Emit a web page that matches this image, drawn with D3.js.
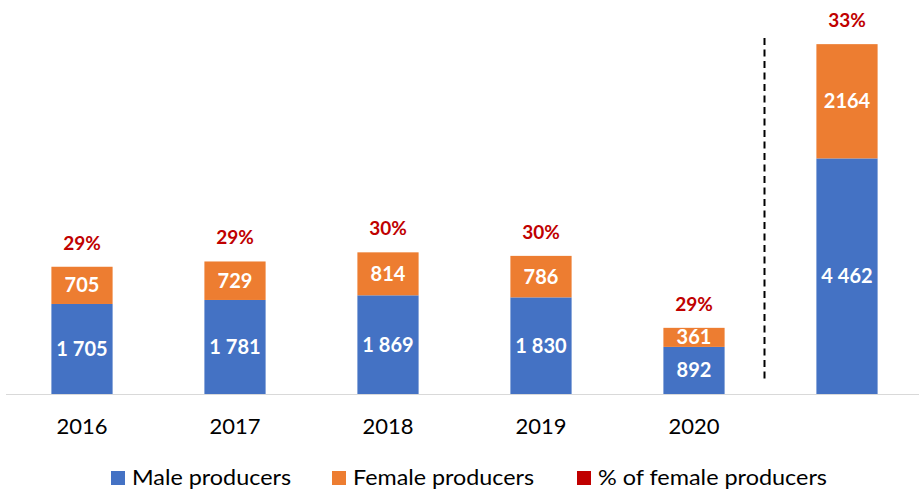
<!DOCTYPE html>
<html>
<head>
<meta charset="utf-8">
<script src="https://cdn.jsdelivr.net/npm/d3@7"></script>
<style>
  body { margin: 0; background: #fff; }
  svg { font-family: Lato, "Open Sans", sans-serif; }
</style>
</head>
<body>
<div id="chart"></div>
<script>
// Data
const categories = ["2016", "2017", "2018", "2019", "2020", "total"];
const tickLabels = ["2016", "2017", "2018", "2019", "2020", ""];
const male = [1705, 1781, 1869, 1830, 892, 4462];
const female = [705, 729, 814, 786, 361, 2164];
const femaleShare = [29, 29, 30, 30, 29, 33];
const maleLabels = ["1 705", "1 781", "1 869", "1 830", "892", "4 462"];
const femaleLabels = ["705", "729", "814", "786", "361", "2164"];

const width = 919;
const height = 490;
const baseY = 394;

const colors = { male: "#4472C4", female: "#ED7D31", share: "#C00000" };

const svg = d3.select("#chart")
  .append("svg")
  .attr("width", width)
  .attr("height", height);

const x = d3.scaleBand()
  .domain(categories)
  .range([5.5, 923.5])
  .paddingInner(0.6)
  .paddingOuter(0.3);

const y = d3.scaleLinear()
  .domain([0, 7000])
  .range([baseY, baseY - 7000 * 0.0528]);

const rows = categories.map((c, i) => ({
  key: c,
  male: male[i],
  female: female[i],
  share: femaleShare[i],
  maleLabel: maleLabels[i],
  femaleLabel: femaleLabels[i]
}));

// Bars
svg.append("g").selectAll("rect")
  .data(rows)
  .join("rect")
  .attr("x", d => x(d.key))
  .attr("width", x.bandwidth())
  .attr("y", d => y(d.male))
  .attr("height", d => y(0) - y(d.male))
  .attr("fill", colors.male);

svg.append("g").selectAll("rect")
  .data(rows)
  .join("rect")
  .attr("x", d => x(d.key))
  .attr("width", x.bandwidth())
  .attr("y", d => y(d.male + d.female))
  .attr("height", d => y(d.male) - y(d.male + d.female))
  .attr("fill", colors.female);

// Axis line
svg.append("line")
  .attr("x1", 6)
  .attr("x2", width)
  .attr("y1", baseY + 0.5)
  .attr("y2", baseY + 0.5)
  .attr("stroke", "#d9d9d9")
  .attr("stroke-width", 1);

// Category labels
const xAxis = svg.append("g")
  .attr("transform", `translate(0,${baseY})`)
  .call(d3.axisBottom(x)
    .tickSize(0)
    .tickPadding(24)
    .tickFormat((d, i) => tickLabels[i]));
xAxis.select(".domain").remove();
xAxis.selectAll(".tick text")
  .style("font-size", "22px")
  .style("font-family", "Lato, 'Open Sans', sans-serif")
  .attr("fill", "#000");

// Dashed separator between 2020 and the total (sits a little left of centre)
const sepX = (x("2020") + x.bandwidth() + x("total")) / 2 - 6;
svg.append("line")
  .attr("x1", sepX)
  .attr("x2", sepX)
  .attr("y1", 38)
  .attr("y2", 383)
  .attr("stroke", "#000")
  .attr("stroke-width", 2)
  .attr("stroke-dasharray", "7,4.5");

// Value labels
const valueLabels = svg.append("g")
  .attr("text-anchor", "middle")
  .attr("fill", "#fff")
  .style("font-weight", "bold")
  .style("font-size", "20px");

valueLabels.selectAll(".male-label")
  .data(rows)
  .join("text")
  .attr("class", "male-label")
  .attr("x", d => x(d.key) + x.bandwidth() / 2)
  .attr("y", d => (y(0) + y(d.male)) / 2)
  .attr("dy", "0.35em")
  .text(d => d.maleLabel);

valueLabels.selectAll(".female-label")
  .data(rows)
  .join("text")
  .attr("class", "female-label")
  .attr("x", d => x(d.key) + x.bandwidth() / 2)
  .attr("y", d => (y(d.male) + y(d.male + d.female)) / 2)
  .attr("dy", "0.35em")
  .text(d => d.femaleLabel);

// Share labels
svg.append("g").selectAll("text")
  .data(rows)
  .join("text")
  .attr("text-anchor", "middle")
  .attr("x", d => x(d.key) + x.bandwidth() / 2)
  .attr("y", d => y(d.male + d.female) - 17)
  .attr("fill", colors.share)
  .style("font-weight", "bold")
  .style("font-size", "19px")
  .text(d => d.share + "%");

// Legend
const legendItems = [
  { label: "Male producers", color: colors.male, x: 111, w: 159 },
  { label: "Female producers", color: colors.female, x: 332, w: 181 },
  { label: "% of female producers", color: colors.share, x: 577, w: 229 }
];

const legend = svg.append("g")
  .attr("transform", "translate(0,478)");

const item = legend.selectAll("g")
  .data(legendItems)
  .join("g")
  .attr("transform", d => `translate(${d.x},0)`);

item.append("rect")
  .attr("x", 0)
  .attr("y", -7)
  .attr("width", 14)
  .attr("height", 14)
  .attr("fill", d => d.color);

item.append("text")
  .attr("x", 21)
  .attr("dy", "0.33em")
  .style("font-size", "22px")
  .attr("fill", "#000")
  .attr("textLength", d => d.w)
  .attr("lengthAdjust", "spacingAndGlyphs")
  .text(d => d.label);
</script>
</body>
</html>
